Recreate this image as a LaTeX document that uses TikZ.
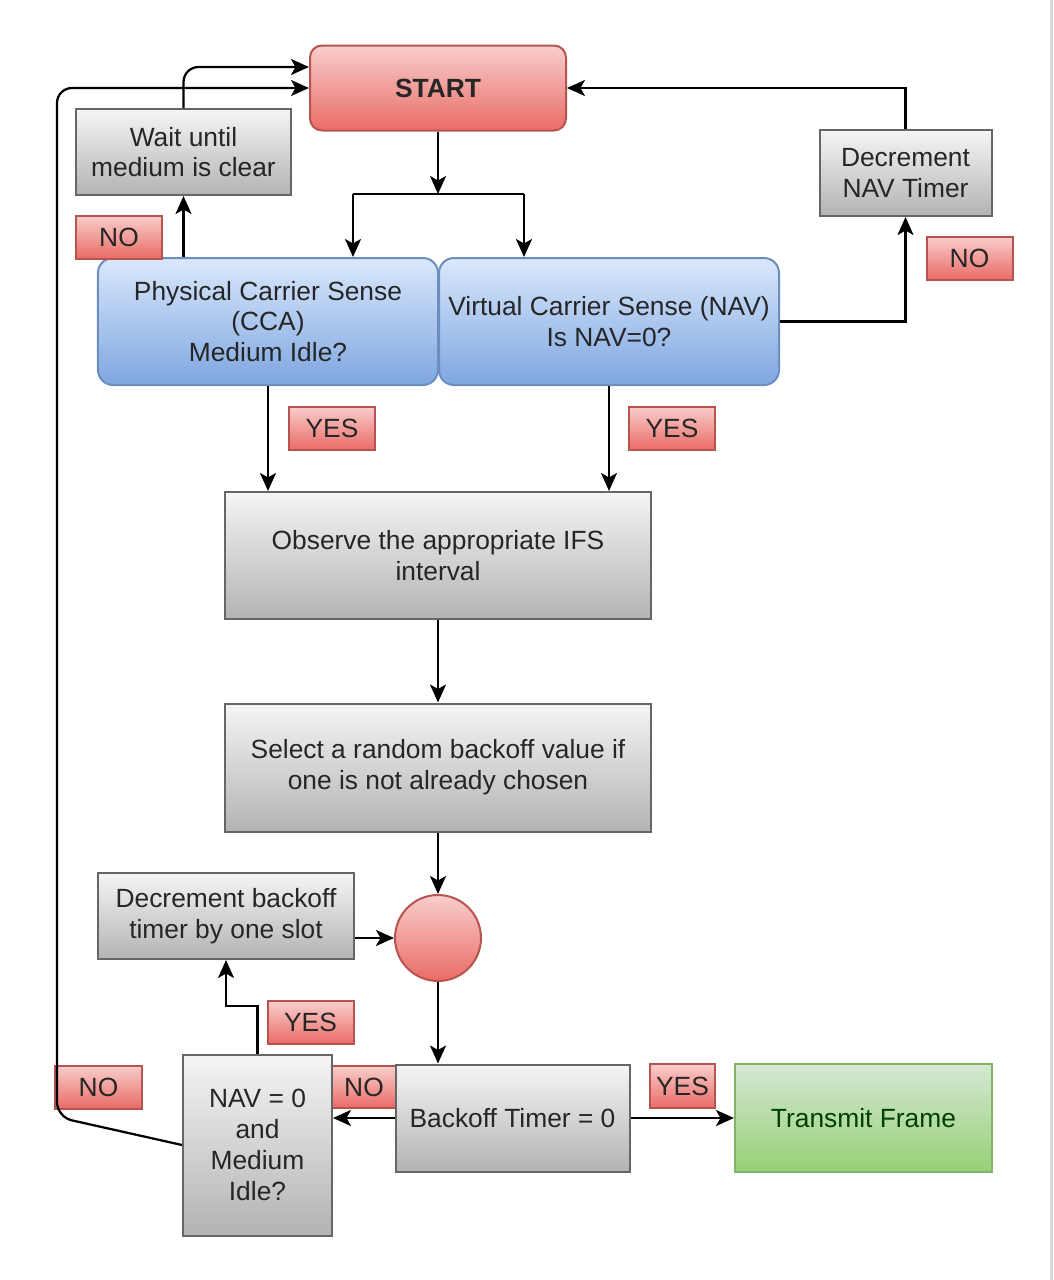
\documentclass[tikz,border=0pt]{standalone}
\usepackage{fontspec}
\setmainfont{Liberation Sans}
\usetikzlibrary{arrows.meta}

\definecolor{redtop}{HTML}{F8CECC}
\definecolor{redbot}{HTML}{EA6B66}
\definecolor{redline}{HTML}{B85450}
\definecolor{graytop}{HTML}{F5F5F5}
\definecolor{graybot}{HTML}{B3B3B3}
\definecolor{grayline}{HTML}{666666}
\definecolor{bluetop}{HTML}{DAE8FC}
\definecolor{bluebot}{HTML}{7EA6E0}
\definecolor{blueline}{HTML}{6C8EBF}
\definecolor{greentop}{HTML}{D5E8D4}
\definecolor{greenbot}{HTML}{97D077}
\definecolor{greenline}{HTML}{82B366}

\tikzset{
  every node/.style={font=\fontsize{15}{17.5}\selectfont, align=center, inner sep=0pt, line width=0.4mm, text=black!85},
  graybox/.style={draw=grayline, top color=graytop, bottom color=graybot},
  redbox/.style={draw=redline, top color=redtop, bottom color=redbot},
  bluebox/.style={draw=blueline, top color=bluetop, bottom color=bluebot, rounded corners=3mm},
  greenbox/.style={draw=greenline, top color=greentop, bottom color=greenbot},
  tag/.style={redbox, minimum width=17.2mm, minimum height=8.6mm},
  arr/.style={-{Stealth[length=3.6mm,width=3.2mm,inset=0.9mm]}, line width=0.45mm},
}

\begin{document}
\begin{tikzpicture}[x=0.2mm, y=-0.2mm]
% 画布大小, 与原图一致
\useasboundingbox (0,0) rectangle (1053,1280);
\fill [gray!30] (1050,0) rectangle (1053,1280);

% 开始
\node [redbox, rounded corners=2.4mm, minimum width=51.2mm, minimum height=17mm,
       font=\fontsize{15}{17.5}\selectfont\bfseries] (start) at (438,88) {START};
% 左上: 等待信道空闲
\node [graybox, minimum width=42.8mm, minimum height=17.2mm] (wait) at (183.5,152) {Wait until\\medium is clear};
% 右上: NAV 计时器递减
\node [graybox, minimum width=34.4mm, minimum height=17.2mm] (decnav) at (905.5,173) {Decrement\\NAV Timer};
% 两个载波侦听
\node [bluebox, minimum width=68mm, minimum height=25.4mm] (phys) at (268,321.5)
      {Physical Carrier Sense\\(CCA)\\Medium Idle?};
\node [bluebox, minimum width=68mm, minimum height=25.4mm] (virt) at (609,321.5)
      {Virtual Carrier Sense (NAV)\\Is NAV=0?};
% 中间的流程框
\node [graybox, minimum width=85.2mm, minimum height=25.4mm] (ifs) at (438,555.5)
      {Observe the appropriate IFS\\interval};
\node [graybox, minimum width=85.2mm, minimum height=25.6mm] (select) at (438,767.5)
      {Select a random backoff value if\\one is not already chosen};
\node [redbox, circle, minimum size=17.2mm] (join) at (438,938) {};
\node [graybox, minimum width=51.2mm, minimum height=17.2mm] (decbo) at (226,916)
      {Decrement backoff\\timer by one slot};
% 底部一行
\node [tag, minimum width=12.8mm, minimum height=8.4mm] (no3) at (364,1087) {NO};
\node [graybox, minimum width=46.8mm, minimum height=21.4mm] (backoff) at (512.5,1118) {Backoff Timer = 0};
\node [graybox, minimum width=29.8mm, minimum height=36.2mm] (idle) at (257.5,1145)
      {NAV = 0\\and\\Medium\\Idle?};
\node [greenbox, minimum width=51.4mm, minimum height=21.6mm, text=green!25!black] (tx) at (863.5,1118) {Transmit Frame};

% 红色标签
\node [tag] (no1) at (119,237) {NO};
\node [tag] (no2) at (969.5,258) {NO};
\node [tag] (yes1) at (332,428) {YES};
\node [tag] (yes2) at (672,428) {YES};
\node [tag] (yes3) at (310.5,1022.5) {YES};
\node [tag] (no4) at (98.5,1087) {NO};
\node [tag, minimum width=13mm, minimum height=8.8mm] (yes4) at (682.5,1086) {YES};

% 连线
\coordinate (split) at (438,194);
\coordinate (sl) at (353,194);
\coordinate (sr) at (524,194);
\draw [arr] (start) -- (split);
\draw [line width=0.45mm] (sl) -- (sr);
\draw [arr] (sl) -- (sl |- phys.north);
\draw [arr] (sr) -- (sr |- virt.north);
% 物理侦听 NO -> 等待 -> 开始
\draw [arr] (wait.south |- phys.north) -- (wait.south);
\draw [arr, rounded corners=3mm] (wait.north) |- ([yshift=4.2mm]start.west);
% 虚拟侦听 NO -> NAV 递减 -> 开始
\draw [arr] (virt.east) -| (decnav.south);
\draw [arr] (decnav.north) |- (start.east);
% YES -> IFS
\draw [arr] (phys.south) -- (phys.south |- ifs.north);
\draw [arr] (virt.south) -- (virt.south |- ifs.north);
\draw [arr] (ifs) -- (select);
\draw [arr] (select) -- (join);
\draw [arr] (decbo.east |- join.west) -- (join.west);
\draw [arr] (join) -- (join |- backoff.north);
\draw [arr] (backoff.west) -- (backoff.west -| idle.east);
\draw [arr] (backoff) -- (tx);
% YES -> 递减退避计时器
\coordinate (bend) at (257.5,1006);
\draw [arr] (idle.north) -- (bend) -| (decbo.south);
% NO -> 回到开始
\coordinate (lb) at (57,1117);
\coordinate (lt) at (57,88);
\draw [arr, rounded corners=3mm] (idle.west) -- (lb) -- (lt) -- (start.west);

\end{tikzpicture}
\end{document}
